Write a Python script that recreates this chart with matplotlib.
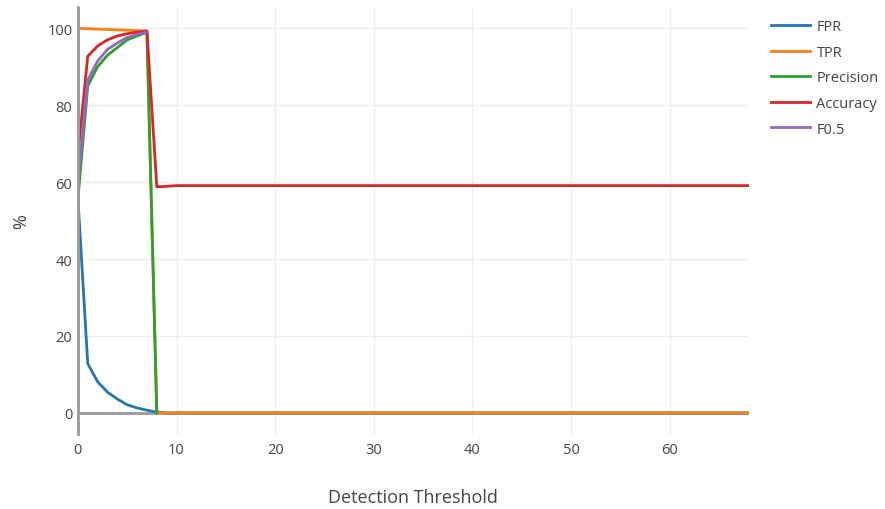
import matplotlib.pyplot as plt
import numpy as np

plt.rcParams['font.family'] = ['Open Sans', 'DejaVu Sans']

# thresholds 0..68
thresholds = list(range(0, 69))

fpr_head = [56, 12.8, 8.1, 5.4, 3.6, 2.1, 1.3, 0.7, 0.2]
tpr_head = [100, 99.9, 99.8, 99.7, 99.6, 99.5, 99.4, 99.3, 0]
precision = [55.5, 85, 90, 93, 95, 97, 98, 99, 0]
accuracy_head = [67, 92.7, 95.4, 97, 98, 98.6, 99, 99.3, 58.8, 58.9]
f05 = [60, 86.5, 91.5, 94.5, 96.2, 97.6, 98.4, 99]

n = len(thresholds)
fpr = fpr_head + [0] * (n - len(fpr_head))
tpr = tpr_head + [0] * (n - len(tpr_head))
accuracy = accuracy_head + [59.1] * (n - len(accuracy_head))

colors = ['#1f77b4', '#ff7f0e', '#2ca02c', '#d62728', '#9467bd']

fig = plt.figure(figsize=(8.85, 5.1), dpi=100)
ax = fig.add_axes([0.088, 0.147, 0.758, 0.837])

ax.plot(thresholds, fpr, color=colors[0], lw=2, label='FPR')
ax.plot(thresholds, tpr, color=colors[1], lw=2, label='TPR')
ax.plot(thresholds[:len(precision)], precision, color=colors[2], lw=2, label='Precision')
ax.plot(thresholds, accuracy, color=colors[3], lw=2, label='Accuracy')
ax.plot(thresholds[:len(f05)], f05, color=colors[4], lw=2, label='F0.5')

ax.set_xlim(0, 68)
ax.set_ylim(-5.5, 105.5)
ax.set_xticks(range(0, 70, 10))
ax.set_yticks(range(0, 101, 20))
ax.grid(color='#eeeeee', lw=1)
ax.set_axisbelow(True)
ax.axhline(0, color='#999999', lw=2, zorder=1)
for s in ['top', 'right', 'bottom']:
    ax.spines[s].set_visible(False)
ax.spines['left'].set_color('#999999')
ax.spines['left'].set_linewidth(2)
ax.tick_params(axis='x', length=0, labelsize=10.5, colors='#444444', pad=6)
ax.tick_params(axis='y', length=0, labelsize=10.5, colors='#444444', pad=4)

ax.set_xlabel('Detection Threshold', fontsize=13, color='#444444', labelpad=22)
ax.set_ylabel('%', fontsize=13, color='#444444', labelpad=12)

leg = ax.legend(loc='upper left', bbox_to_anchor=(1.013, 1.003), frameon=False,
                fontsize=10.5, handlelength=2.7, labelspacing=0.73, handletextpad=0.45)
for t in leg.get_texts():
    t.set_color('#444444')

fig.savefig('out.png', dpi=100)
